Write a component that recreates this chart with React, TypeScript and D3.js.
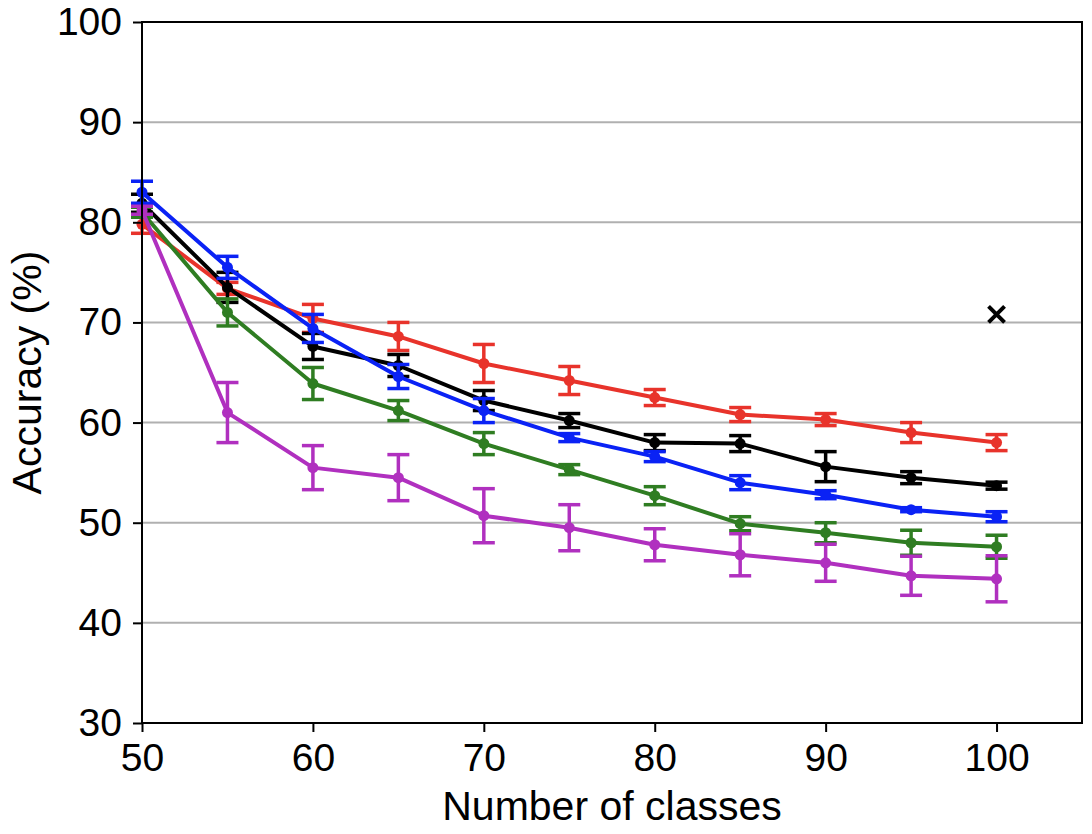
import React, { useEffect, useRef } from "react";
import * as d3 from "d3";

const classes = [50, 55, 60, 65, 70, 75, 80, 85, 90, 95, 100];

const redMean = [79.8, 73.4, 70.4, 68.6, 65.9, 64.2, 62.5, 60.8, 60.3, 59.0, 58.0];
const redErr = [0.9, 0.6, 1.4, 1.4, 1.9, 1.4, 0.8, 0.7, 0.6, 1.0, 0.8];

const blackMean = [81.9, 73.5, 67.6, 65.7, 62.2, 60.2, 58.0, 57.9, 55.6, 54.5, 53.7];
const blackErr = [0.9, 1.5, 1.3, 1.1, 1.0, 0.7, 0.8, 0.8, 1.5, 0.6, 0.35];

const blueMean = [83.0, 75.5, 69.4, 64.6, 61.2, 58.5, 56.6, 54.0, 52.8, 51.3, 50.6];
const blueErr = [1.1, 1.1, 1.4, 1.2, 1.2, 0.4, 0.5, 0.7, 0.4, 0.2, 0.5];

const greenMean = [81.0, 71.0, 63.9, 61.2, 57.9, 55.3, 52.7, 49.9, 49.0, 48.0, 47.6];
const greenErr = [0.5, 1.35, 1.6, 1.0, 1.1, 0.5, 0.9, 0.7, 1.0, 1.25, 1.15];

const purpleMean = [81.2, 61.0, 55.5, 54.5, 50.7, 49.5, 47.8, 46.8, 46.0, 44.7, 44.4];
const purpleErr = [0.4, 3.0, 2.2, 2.3, 2.7, 2.3, 1.6, 2.1, 1.85, 1.95, 2.3];

const crossPoint = { x: 100, y: 70.8 };

const yTicks = [30, 40, 50, 60, 70, 80, 90, 100];
const xTicks = [50, 60, 70, 80, 90, 100];

const series = [
  { name: "red", color: "#e8332b", mean: redMean, err: redErr },
  { name: "black", color: "#000000", mean: blackMean, err: blackErr },
  { name: "blue", color: "#0a22f5", mean: blueMean, err: blueErr },
  { name: "green", color: "#2f7d22", mean: greenMean, err: greenErr },
  { name: "purple", color: "#b030bf", mean: purpleMean, err: purpleErr },
];

const App: React.FC = () => {
  const ref = useRef<SVGSVGElement | null>(null);

  useEffect(() => {
    if (!ref.current) return;
    const W = 1092,
      H = 834;
    const margin = { top: 22, right: 10, bottom: 111, left: 142 };
    const width = W - margin.left - margin.right,
      height = H - margin.top - margin.bottom;

    const svg = d3.select(ref.current).attr("width", W).attr("height", H);
    svg.selectAll("*").remove();

    const g = svg
      .append("g")
      .attr("transform", `translate(${margin.left},${margin.top})`);

    const x = d3.scaleLinear().domain([50, 105]).range([0, width]);
    const y = d3.scaleLinear().domain([30, 100]).range([height, 0]);

    // horizontal grid
    g.append("g")
      .selectAll("line")
      .data(yTicks.filter((t) => t > 30 && t < 100))
      .enter()
      .append("line")
      .attr("x1", 0)
      .attr("x2", width)
      .attr("y1", (d) => y(d))
      .attr("y2", (d) => y(d))
      .attr("stroke", "#b0b0b0")
      .attr("stroke-width", 2);

    // series
    series.forEach((s) => {
      const pts = classes.map((c, i) => ({ x: c, m: s.mean[i], e: s.err[i] }));
      const line = d3
        .line<{ x: number; m: number }>()
        .x((d) => x(d.x))
        .y((d) => y(d.m));

      const sg = g.append("g");
      sg.append("path")
        .datum(pts)
        .attr("fill", "none")
        .attr("stroke", s.color)
        .attr("stroke-width", 4)
        .attr("stroke-linejoin", "round")
        .attr("d", line);

      const eb = sg.selectAll("g.eb").data(pts).enter().append("g");
      eb.append("line")
        .attr("x1", (d) => x(d.x))
        .attr("x2", (d) => x(d.x))
        .attr("y1", (d) => y(d.m - d.e))
        .attr("y2", (d) => y(d.m + d.e))
        .attr("stroke", s.color)
        .attr("stroke-width", 3.5);
      [-1, 1].forEach((k) => {
        eb.append("line")
          .attr("x1", (d) => x(d.x) - 11)
          .attr("x2", (d) => x(d.x) + 11)
          .attr("y1", (d) => y(d.m + k * d.e))
          .attr("y2", (d) => y(d.m + k * d.e))
          .attr("stroke", s.color)
          .attr("stroke-width", 3.5);
      });
      eb.append("circle")
        .attr("cx", (d) => x(d.x))
        .attr("cy", (d) => y(d.m))
        .attr("r", 5.5)
        .attr("fill", s.color);
    });

    // cross marker
    const cx = x(crossPoint.x),
      cy = y(crossPoint.y),
      r = 8;
    g.append("path")
      .attr("d", `M${cx - r},${cy - r}L${cx + r},${cy + r}M${cx - r},${cy + r}L${cx + r},${cy - r}`)
      .attr("stroke", "#000")
      .attr("stroke-width", 4);

    // frame
    g.append("rect")
      .attr("x", 0)
      .attr("y", 0)
      .attr("width", width)
      .attr("height", height)
      .attr("fill", "none")
      .attr("stroke", "#000")
      .attr("stroke-width", 2);

    const font = "'Liberation Sans', Arial, sans-serif";

    const xAxis = g
      .append("g")
      .attr("transform", `translate(0,${height})`)
      .call(d3.axisBottom(x).tickValues(xTicks).tickSize(9).tickPadding(11).tickFormat(d3.format("d")));
    const yAxis = g
      .append("g")
      .call(d3.axisLeft(y).tickValues(yTicks).tickSize(9).tickPadding(11).tickFormat(d3.format("d")));
    [xAxis, yAxis].forEach((a) => {
      a.select(".domain").remove();
      a.selectAll("line").attr("stroke", "#000").attr("stroke-width", 2);
      a.selectAll("text")
        .attr("fill", "#000")
        .style("font-family", font)
        .style("font-size", "39px");
    });

    svg
      .append("text")
      .attr("x", margin.left + width / 2)
      .attr("y", 820)
      .attr("text-anchor", "middle")
      .style("font-family", font)
      .style("font-size", "41px")
      .text("Number of classes");

    svg
      .append("text")
      .attr("transform", `translate(41,${margin.top + height / 2}) rotate(-90)`)
      .attr("text-anchor", "middle")
      .style("font-family", font)
      .style("font-size", "41px")
      .text("Accuracy (%)");
  }, []);

  return (
    <svg
      ref={ref}
      style={{ position: "absolute", left: 0, top: 0, background: "#fff" }}
    />
  );
};

export default App;
